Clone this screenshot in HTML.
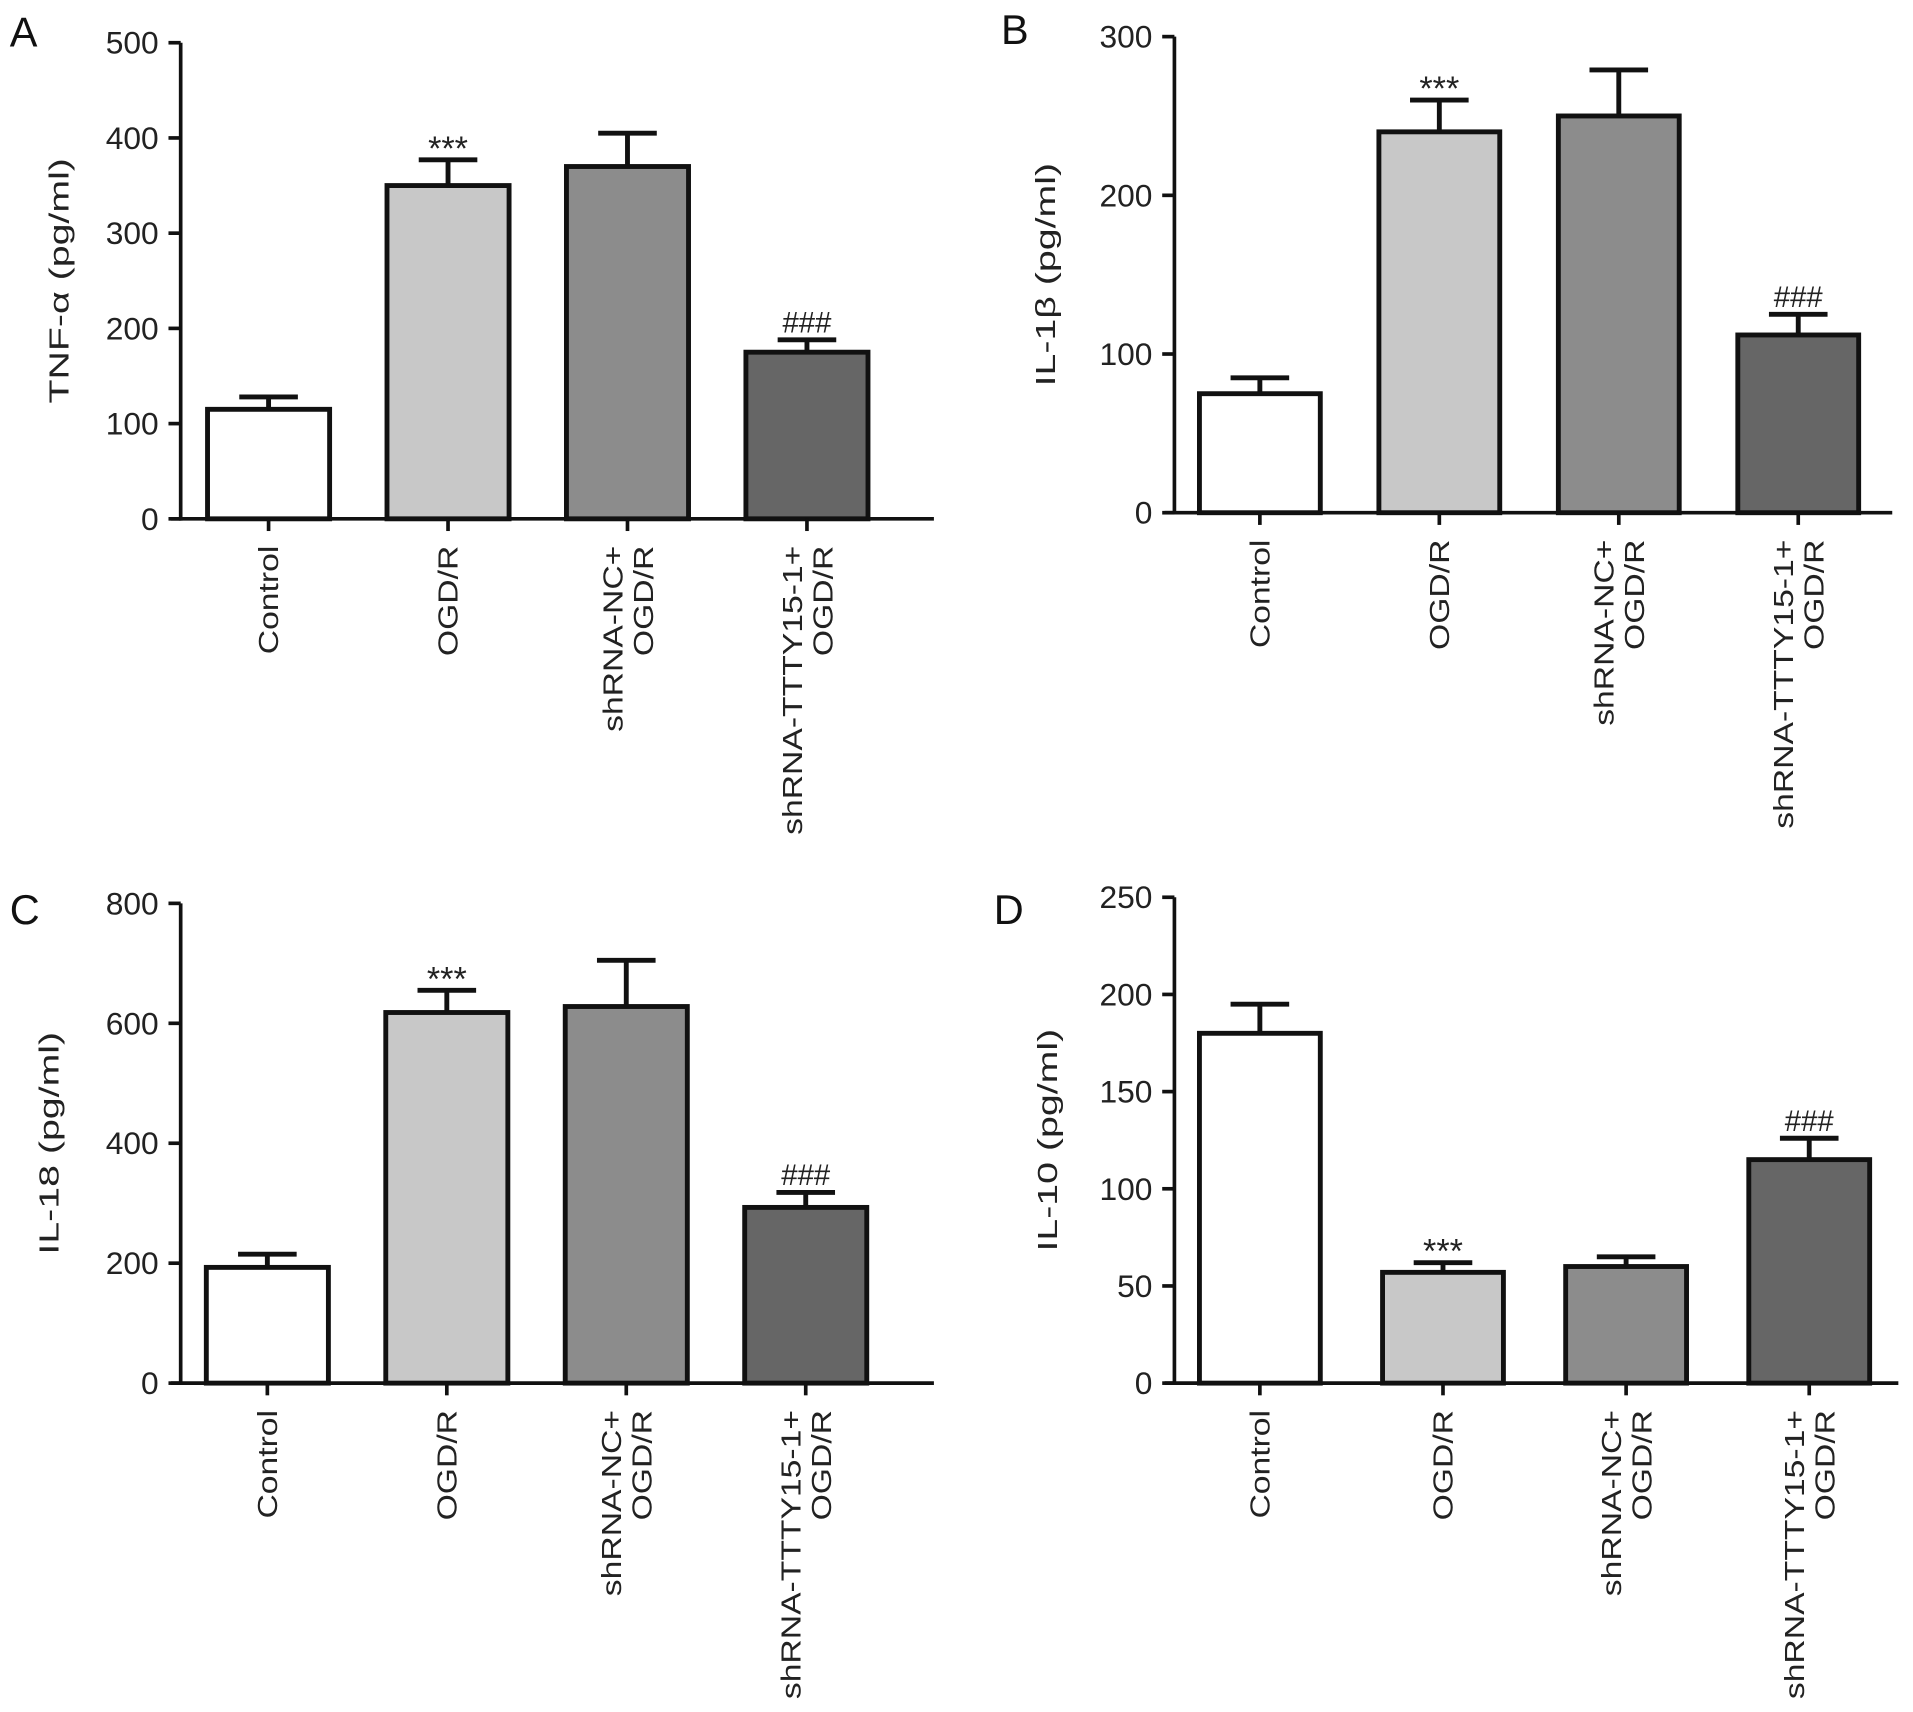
<!DOCTYPE html>
<html><head><meta charset="utf-8"><style>
html,body{margin:0;padding:0;background:#fff;}
svg{display:block;font-family:"Liberation Sans",Arial,sans-serif;}
</style></head><body>
<svg id="fig" width="1913" height="1712" viewBox="0 0 1567 1402.4" preserveAspectRatio="none" xmlns="http://www.w3.org/2000/svg"></svg>
<script>
const categories = [["Control"],["OGD/R"],["shRNA-NC+","OGD/R"],["shRNA-TTTY15-1+","OGD/R"]];
const valuesA = [115, 350, 370, 175];
const errorsA = [128, 377, 405, 188];
const valuesB = [75, 240, 250, 112];
const errorsB = [85, 260, 279, 125];
const valuesC = [193, 618, 628, 293];
const errorsC = [215, 655, 705, 318];
const valuesD = [180, 57, 60, 115];
const errorsD = [195, 62, 65, 126];
const ticksA = [0,100,200,300,400,500];
const ticksB = [0,100,200,300];
const ticksC = [0,200,400,600,800];
const ticksD = [0,50,100,150,200,250];
const marksA = ["", "***", "", "###"];
const marksB = ["", "***", "", "###"];
const marksC = ["", "***", "", "###"];
const marksD = ["", "***", "", "###"];
const fills = ["#ffffff","#c8c8c8","#8c8c8c","#666666"];

const NS="http://www.w3.org/2000/svg";
const svg=document.getElementById('fig');
function mk(tag,attrs,parent){const e=document.createElementNS(NS,tag);for(const k in attrs)e.setAttribute(k,attrs[k]);(parent||svg).appendChild(e);return e;}

function panel(cfg){
  const g=mk('g',{});
  
  
  const maxV=cfg.ticks[cfg.ticks.length-1];
  const y=v=>cfg.y0-(v/maxV)*(cfg.y0-cfg.yTop);
  const x=i=>cfg.xStart+i*cfg.step;
  const bw=cfg.bw;
  const L=mk('text',{x:cfg.lx,y:cfg.ly,'font-size':34,fill:'#111'},g);L.textContent=cfg.letter;
  
  
  const ya=mk('line',{x1:cfg.ax,y1:cfg.yTop,x2:cfg.ax,y2:cfg.y0+1.5,stroke:'#111','stroke-width':3},g);
  
  
  const xa=mk('line',{x1:cfg.ax-8,y1:cfg.y0,x2:cfg.xEnd,y2:cfg.y0,stroke:'#111','stroke-width':3},g);
  
  
  cfg.ticks.forEach(t=>{
    mk('line',{x1:cfg.ax-10,y1:y(t),x2:cfg.ax,y2:y(t),stroke:'#111','stroke-width':3},g);
    const tl=mk('text',{x:cfg.ax-18,y:y(t)+9,'text-anchor':'end','font-size':26,fill:'#222'},g);tl.textContent=t;
    
    
  });
  const yt=mk('text',{x:0,y:0,'text-anchor':'middle','font-size':23,fill:'#222',transform:`translate(${cfg.titleX},${(cfg.y0+cfg.yTop)/2}) rotate(-90) scale(1.4,1)`},g);
  yt.textContent=cfg.title;
  
  
  cfg.values.forEach((v,i)=>{
    const cx=x(i);
    const eb=mk('path',{d:`M${cx},${y(v)} V${y(cfg.errors[i])} M${cx-24},${y(cfg.errors[i])} H${cx+24}`,stroke:'#111','stroke-width':4,fill:'none'},g);
    
    
    const r=mk('rect',{x:cx-bw/2,y:y(v),width:bw,height:cfg.y0-y(v),fill:fills[i],stroke:'#111','stroke-width':4},g);
    
    
    mk('line',{x1:cx,y1:cfg.y0,x2:cx,y2:cfg.y0+10,stroke:'#111','stroke-width':3},g);
    if(cfg.marks[i]){
      const star=cfg.marks[i]==='***';
      const m=mk('text',{x:cx,y:y(cfg.errors[i])-(star?0:6),'text-anchor':'middle','font-size':star?28:24,fill:'#222'},g);
      m.textContent=cfg.marks[i];
      
      
    }
    const lines=categories[i];
    lines.forEach((ln,j)=>{
      const off=lines.length===1?0:(j===0?-12:13);
      const t=mk('text',{x:0,y:0,'text-anchor':'end','font-size':23,fill:'#222','dominant-baseline':'central',transform:`translate(${cx+off},${cfg.y0+22}) rotate(-90) scale(1.2,1)`},g);
      t.textContent=ln;
      
      
    });
  });
}
panel({letter:'A',lx:8,ly:38,ax:148,yTop:35,y0:425,xStart:220,step:147,bw:100,xEnd:765,ticks:ticksA,values:valuesA,errors:errorsA,marks:marksA,title:'TNF-α (pg/ml)',titleX:56});
panel({letter:'B',lx:820,ly:36,ax:962,yTop:30,y0:420,xStart:1032,step:147,bw:99,xEnd:1550,ticks:ticksB,values:valuesB,errors:errorsB,marks:marksB,title:'IL-1β (pg/ml)',titleX:864});
panel({letter:'C',lx:8,ly:757,ax:148,yTop:740,y0:1133,xStart:219,step:147,bw:100,xEnd:765,ticks:ticksC,values:valuesC,errors:errorsC,marks:marksC,title:'IL-18 (pg/ml)',titleX:48});
panel({letter:'D',lx:814,ly:757,ax:962,yTop:735,y0:1133,xStart:1032,step:150,bw:99,xEnd:1555,ticks:ticksD,values:valuesD,errors:errorsD,marks:marksD,title:'IL-10 (pg/ml)',titleX:866});
</script>
</body></html>
